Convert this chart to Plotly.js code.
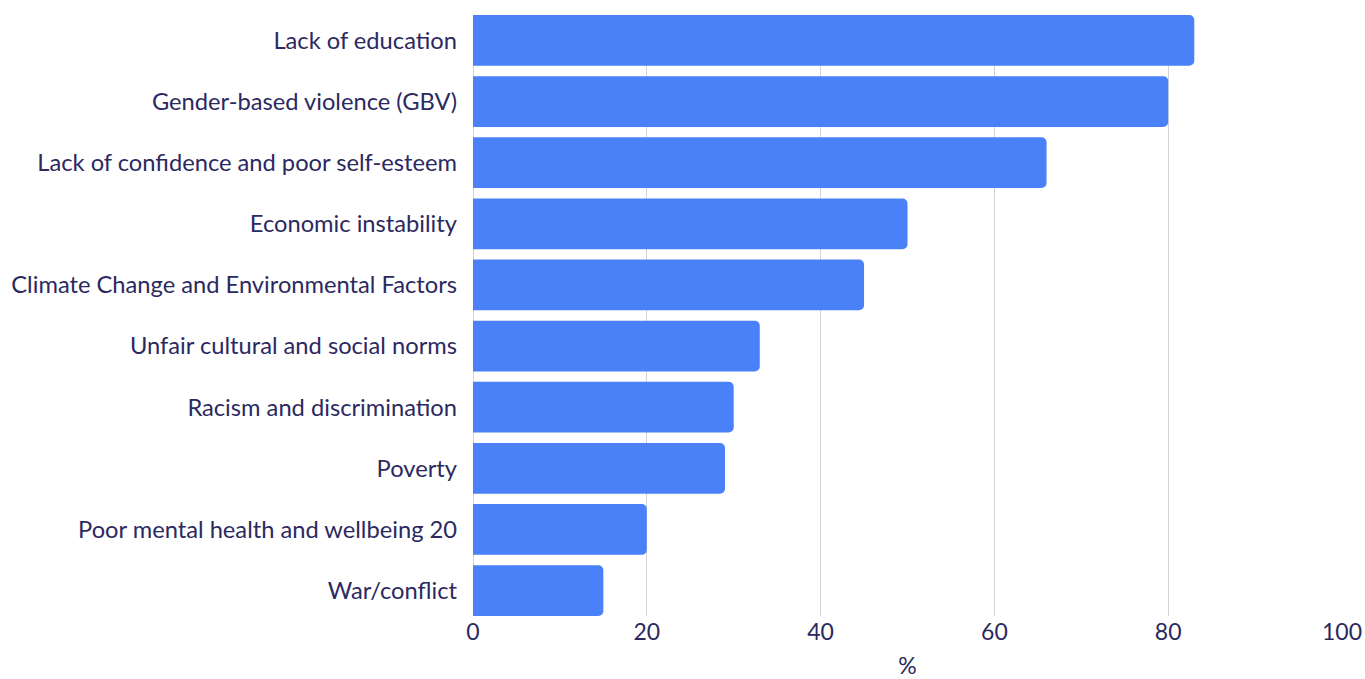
<!DOCTYPE html>
<html>
<head>
<meta charset="utf-8">
<script src="https://cdn.plot.ly/plotly-3.0.1.min.js"></script>
<style>html,body{margin:0;padding:0;background:#fff;}#chart{width:1365px;height:679px;}</style>
</head>
<body>
<div id="chart"></div>
<script>
const categories = [
  "Lack of education",
  "Gender-based violence (GBV)",
  "Lack of confidence and poor self-esteem",
  "Economic instability",
  "Climate Change and Environmental Factors",
  "Unfair cultural and social norms",
  "Racism and discrimination",
  "Poverty",
  "Poor mental health and wellbeing 20",
  "War/conflict"
];
const values = [83, 80, 66, 50, 45, 33, 30, 29, 20, 15];
const xTicks = [0, 20, 40, 60, 80, 100];

const textColor = "#2b2960";
const gap = 0.17;
const trace = {
  type: "bar",
  orientation: "h",
  x: values,
  y: categories,
  marker: {color: "#4a80f8", line: {width: 0}},
  hoverinfo: "x+y"
};
const n = categories.length;
const layout = {
  width: 1365, height: 679,
  margin: {l: 473, r: 23, t: 15, b: 63},
  paper_bgcolor: "#fff", plot_bgcolor: "#fff",
  font: {family: "Lato, sans-serif", size: 23, color: textColor},
  bargap: gap,
  barcornerradius: 5,
  showlegend: false,
  xaxis: {
    range: [0, 100],
    tickvals: xTicks,
    ticktext: xTicks.map(String),
    showgrid: true, gridcolor: "#d4d4d8", gridwidth: 1,
    zeroline: true, zerolinecolor: "#d4d4d8", zerolinewidth: 1,
    showline: false, ticks: "",
    tickfont: {size: 23, color: textColor},
    title: {text: "%", font: {size: 23, color: textColor}, standoff: 18}
  },
  yaxis: {
    range: [n - 0.5 - gap / 2, -0.5 + gap / 2],
    categoryorder: "array", categoryarray: categories,
    showgrid: false, zeroline: false, showline: false,
    ticks: "", ticklabelstandoff: 15,
    tickfont: {size: 23.7, color: textColor}
  }
};
Plotly.newPlot("chart", [trace], layout, {displayModeBar: false, responsive: false});
</script>
</body>
</html>
